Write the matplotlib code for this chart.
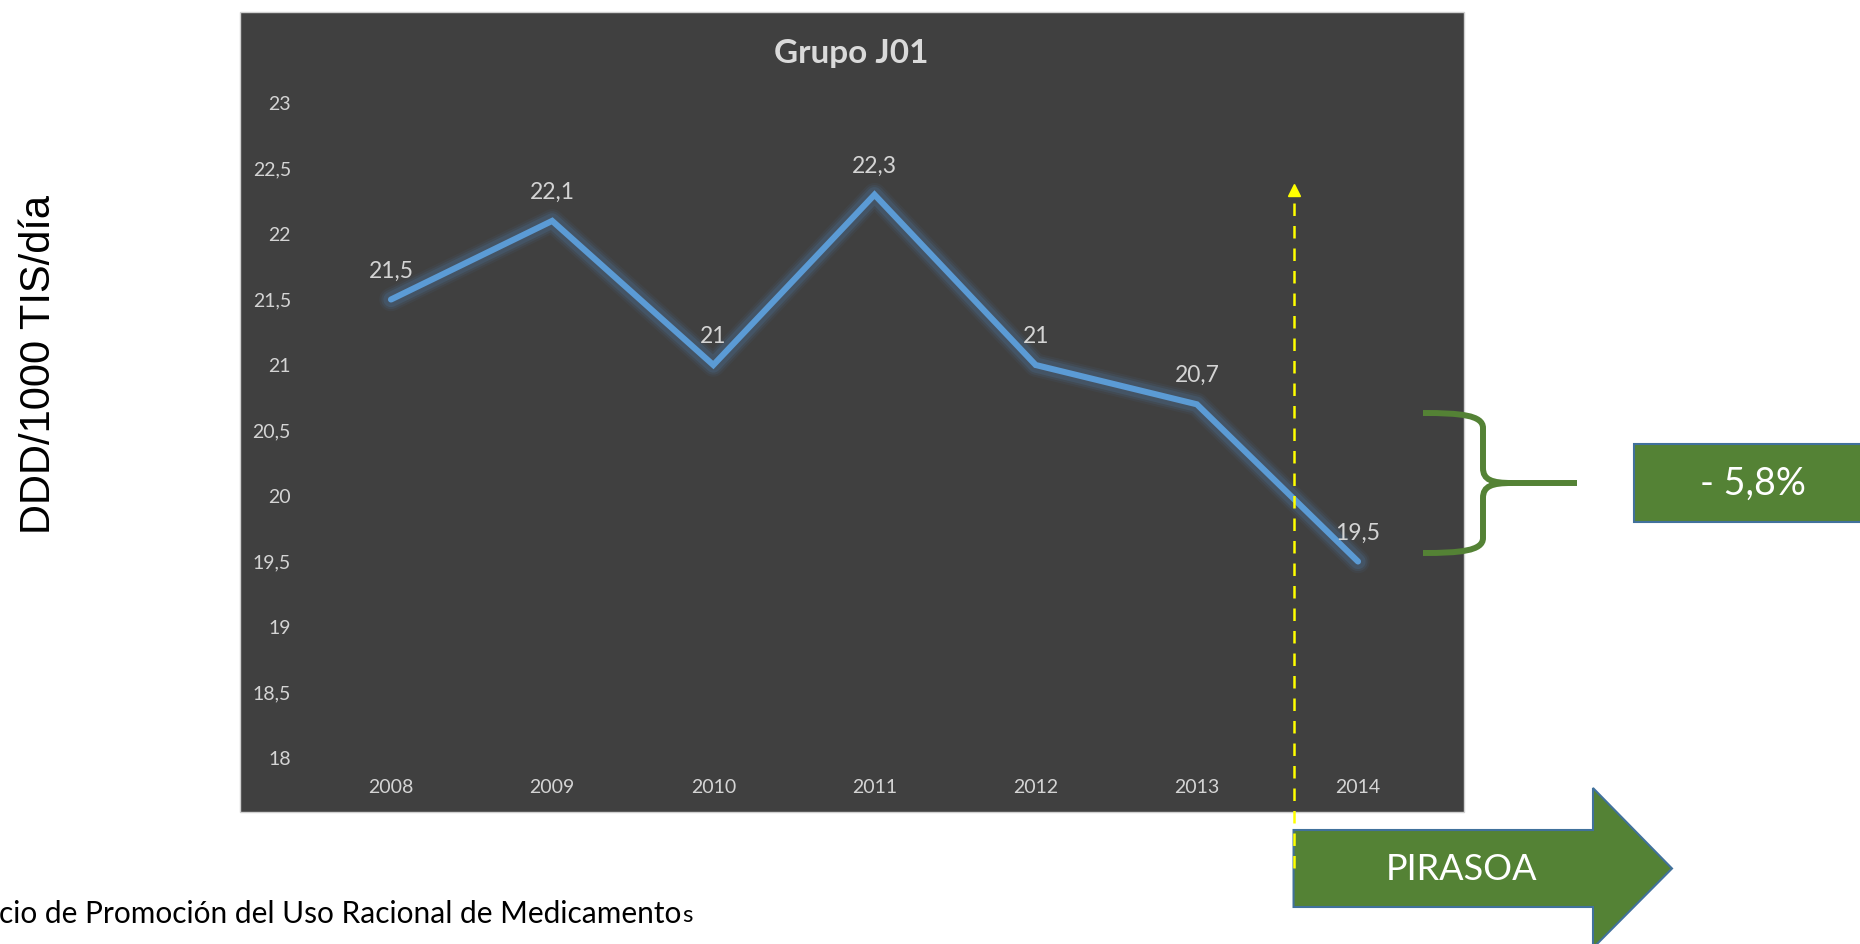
import matplotlib
matplotlib.use("Agg")
import matplotlib.pyplot as plt
from matplotlib.patches import Rectangle, Polygon, PathPatch
from matplotlib.path import Path
from matplotlib.lines import Line2D

# --- data -----------------------------------------------------------------
years = [2008, 2009, 2010, 2011, 2012, 2013, 2014]
ddd = [21.5, 22.1, 21.0, 22.3, 21.0, 20.7, 19.5]
yticks = [18, 18.5, 19, 19.5, 20, 20.5, 21, 21.5, 22, 22.5, 23]
title = "Grupo J01"
ylabel = "DDD/1000 TIS/día"
change_label = "- 5,8%"
program = "PIRASOA"
program_start = 2013.6
footer_main = "cio de Promoción del Uso Racional de Medicamento"
footer_tail = "s"


def fmt(v):
    return f"{v:g}".replace(".", ",")


# --- canvas ---------------------------------------------------------------
W, H = 1860, 944
fig = plt.figure(figsize=(W / 100, H / 100), dpi=100)
fig.patch.set_facecolor("white")


def fx(x):
    return x / W


def fy(y):
    return 1 - y / H


CHART_FONT = ["Lato", "DejaVu Sans"]
TXT = "#D4D4D4"
GREEN = "#548235"
EDGE = "#41719C"

# dark chart panel
panel = Rectangle((fx(240), fy(812)), fx(1464) - fx(240), fy(12) - fy(812),
                  transform=fig.transFigure, facecolor="#404040",
                  edgecolor="#D0D0D0", lw=1.0, zorder=-5)
fig.add_artist(panel)

# plot area
ax = fig.add_axes([fx(310.4), fy(758), (1438.6 - 310.4) / W, 655 / H])
ax.set_facecolor("none")
for s in ax.spines.values():
    s.set_visible(False)
ax.set_xlim(years[0] - 0.5, years[-1] + 0.5)
ax.set_ylim(yticks[0], yticks[-1])
ax.set_xticks(years)
ax.set_xticklabels([str(y) for y in years], family=CHART_FONT, fontsize=14, color=TXT)
ax.set_yticks(yticks)
ax.set_yticklabels([fmt(t) for t in yticks], family=CHART_FONT, fontsize=14, color=TXT)
ax.tick_params(axis="x", length=0, pad=15)
ax.tick_params(axis="y", length=0, pad=14)

# line with soft glow
for lw, a in [(17, 0.07), (14, 0.11), (11, 0.17)]:
    ax.plot(years, ddd, color="#4F86BD", lw=lw, alpha=a,
            solid_capstyle="round", solid_joinstyle="round", zorder=2)
ax.plot(years, ddd, color="#5B9BD5", lw=4.4, solid_capstyle="round",
        solid_joinstyle="miter", zorder=3)

for x, v in zip(years, ddd):
    ax.annotate(fmt(v), (x, v), xytext=(0, 13), textcoords="offset points",
                ha="center", va="bottom", fontsize=16.5, color=TXT,
                family=CHART_FONT, zorder=4)

fig.text(fx(851), fy(53), title, ha="center", va="center", fontsize=24,
         weight="bold", color="#DADADA", family=CHART_FONT)

# y axis title
fig.text(fx(39), fy(364), ylabel, rotation=90, ha="center", va="center",
         fontsize=30, color="black", family=["Liberation Sans", "DejaVu Sans"])

# --- programme start marker ------------------------------------------------
fig.canvas.draw()
x_start = ax.transData.transform((program_start, 0))[0]  # pixels from left

# green arrow
body_top, body_bot, head_top, head_bot = 830, 907, 788, 948
head_x, tip_x = 1593, 1672
mid = (body_top + body_bot) / 2
arrow_pts = [(x_start, body_top), (head_x, body_top), (head_x, head_top),
             (tip_x, mid), (head_x, head_bot), (head_x, body_bot),
             (x_start, body_bot)]
arrow = Polygon([(fx(px), fy(py)) for px, py in arrow_pts], closed=True,
                transform=fig.transFigure, facecolor=GREEN, edgecolor=EDGE,
                lw=1.5, zorder=5)
fig.add_artist(arrow)
fig.text(fx(1462), fy(869), program, ha="center", va="center", fontsize=26,
         color="white", family=CHART_FONT, zorder=6)

# yellow dashed pointer
fig.add_artist(Line2D([fx(x_start), fx(x_start)], [fy(868), fy(194)],
                      transform=fig.transFigure, color="#FFFF00", lw=1.8,
                      ls=(0, (5, 4)), zorder=7))
fig.add_artist(Line2D([fx(x_start)], [fy(190)], transform=fig.transFigure,
                      marker="^", markersize=9, color="#FFFF00", lw=0,
                      zorder=7))

# --- change brace and box ---------------------------------------------------
L, S, R = 1423, 1483, 1577
T, M, B = 413, 483, 553
verts = [
    (L, T), (1460, T), (S, T + 2), (S, T + 15),
    (S, M - 15),
    (S, M - 3), (1492, M), (1512, M),
    (R, M),
    (1512, M), (1492, M), (S, M + 3), (S, M + 15),
    (S, B - 15),
    (S, B - 2), (1460, B), (L, B),
]
codes = [Path.MOVETO, Path.CURVE4, Path.CURVE4, Path.CURVE4,
         Path.LINETO,
         Path.CURVE4, Path.CURVE4, Path.CURVE4,
         Path.LINETO,
         Path.MOVETO, Path.CURVE4, Path.CURVE4, Path.CURVE4,
         Path.LINETO,
         Path.CURVE4, Path.CURVE4, Path.CURVE4]
brace = PathPatch(Path([(fx(px), fy(py)) for px, py in verts], codes),
                  transform=fig.transFigure, facecolor="none",
                  edgecolor=GREEN, lw=4.3, capstyle="butt", zorder=5)
fig.add_artist(brace)

box = Rectangle((fx(1634), fy(522)), fx(1870) - fx(1634), fy(444) - fy(522),
                transform=fig.transFigure, facecolor=GREEN, edgecolor=EDGE,
                lw=1.5, zorder=5)
fig.add_artist(box)
fig.text(fx(1753), fy(484), change_label, ha="center", va="center",
         fontsize=27, color="white", family=CHART_FONT, zorder=6)

# --- source footer -----------------------------------------------------------
t = fig.text(fx(-1), fy(914), footer_main, ha="left", va="center",
             fontsize=21.5, color="black", family=CHART_FONT)
fig.canvas.draw()
bb = t.get_window_extent()
fig.text(bb.x1 / W + 0.0005, fy(916), footer_tail, ha="left", va="center",
         fontsize=17.5, color="black", family=CHART_FONT)

fig.savefig("out.png", dpi=100)
